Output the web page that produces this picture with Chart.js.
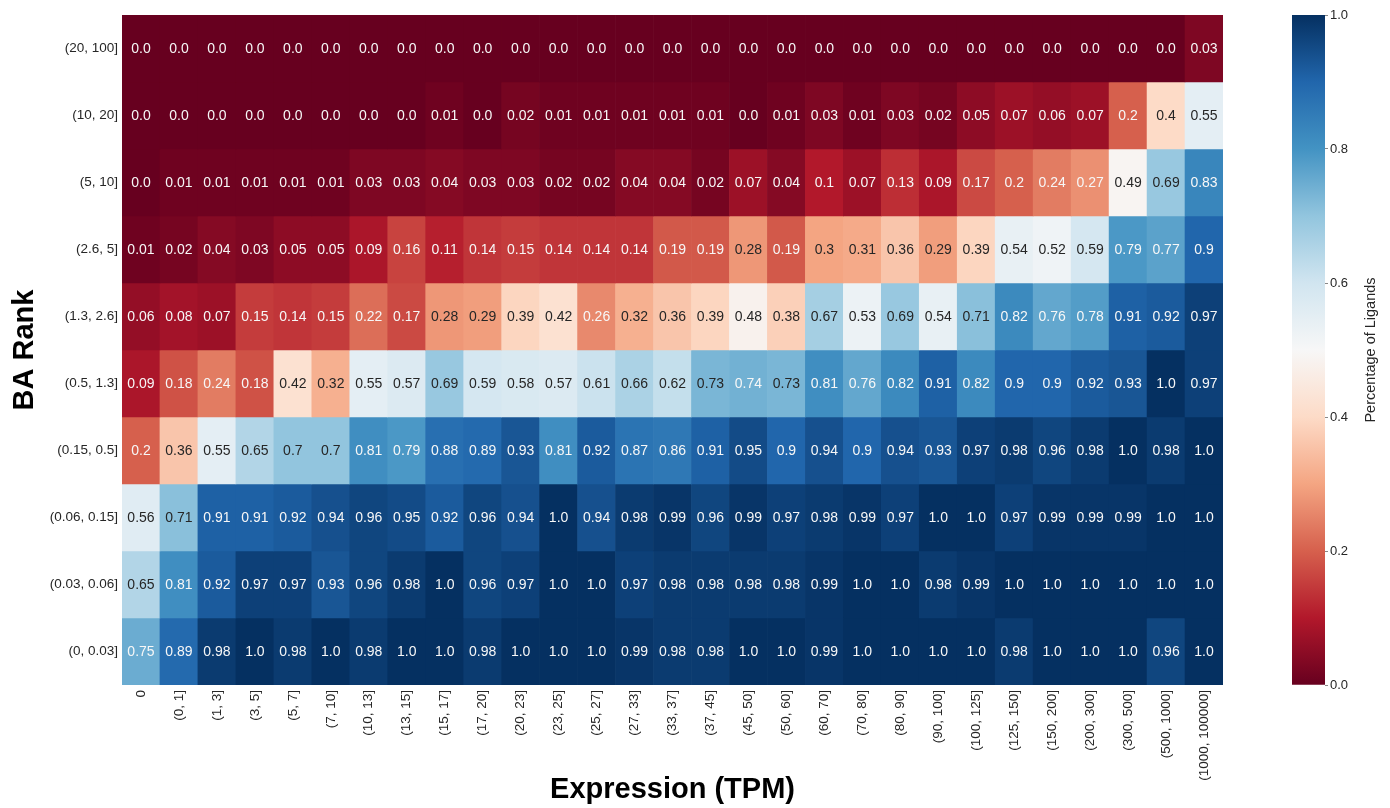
<!DOCTYPE html>
<html>
<head>
<meta charset="utf-8">
<script src="https://cdn.jsdelivr.net/npm/chart.js@4.4.1/dist/chart.umd.min.js"></script>
<style>
  html, body { margin: 0; padding: 0; background: #fff; }
  #wrap { position: relative; width: 1390px; height: 808px; }
  #heat { position: absolute; left: 0; top: 0; }
  #cbar { position: absolute; left: 1250px; top: 0; }
</style>
</head>
<body>
<div id="wrap">
  <canvas id="heat" width="1250" height="808"></canvas>
  <canvas id="cbar" width="140" height="808"></canvas>
</div>
<script>
// columns: expression bins (TPM)
const expressionBins = ["0", "(0, 1]", "(1, 3]", "(3, 5]", "(5, 7]", "(7, 10]", "(10, 13]", "(13, 15]",
  "(15, 17]", "(17, 20]", "(20, 23]", "(23, 25]", "(25, 27]", "(27, 33]", "(33, 37]", "(37, 45]",
  "(45, 50]", "(50, 60]", "(60, 70]", "(70, 80]", "(80, 90]", "(90, 100]", "(100, 125]", "(125, 150]",
  "(150, 200]", "(200, 300]", "(300, 500]", "(500, 1000]", "(1000, 100000]"];

// rows: BA rank bins, top to bottom
const rankBins = ["(20, 100]", "(10, 20]", "(5, 10]", "(2.6, 5]", "(1.3, 2.6]",
  "(0.5, 1.3]", "(0.15, 0.5]", "(0.06, 0.15]", "(0.03, 0.06]", "(0, 0.03]"];

// percentage of ligands per cell
const rank20to100 = [0.0, 0.0, 0.0, 0.0, 0.0, 0.0, 0.0, 0.0, 0.0, 0.0, 0.0, 0.0, 0.0, 0.0, 0.0, 0.0,
  0.0, 0.0, 0.0, 0.0, 0.0, 0.0, 0.0, 0.0, 0.0, 0.0, 0.0, 0.0, 0.03];
const rank10to20 = [0.0, 0.0, 0.0, 0.0, 0.0, 0.0, 0.0, 0.0, 0.01, 0.0, 0.02, 0.01, 0.01, 0.01, 0.01, 0.01,
  0.0, 0.01, 0.03, 0.01, 0.03, 0.02, 0.05, 0.07, 0.06, 0.07, 0.2, 0.4, 0.55];
const rank5to10 = [0.0, 0.01, 0.01, 0.01, 0.01, 0.01, 0.03, 0.03, 0.04, 0.03, 0.03, 0.02, 0.02, 0.04, 0.04, 0.02,
  0.07, 0.04, 0.1, 0.07, 0.13, 0.09, 0.17, 0.2, 0.24, 0.27, 0.49, 0.69, 0.83];
const rank2p6to5 = [0.01, 0.02, 0.04, 0.03, 0.05, 0.05, 0.09, 0.16, 0.11, 0.14, 0.15, 0.14, 0.14, 0.14, 0.19, 0.19,
  0.28, 0.19, 0.3, 0.31, 0.36, 0.29, 0.39, 0.54, 0.52, 0.59, 0.79, 0.77, 0.9];
const rank1p3to2p6 = [0.06, 0.08, 0.07, 0.15, 0.14, 0.15, 0.22, 0.17, 0.28, 0.29, 0.39, 0.42, 0.26, 0.32, 0.36, 0.39,
  0.48, 0.38, 0.67, 0.53, 0.69, 0.54, 0.71, 0.82, 0.76, 0.78, 0.91, 0.92, 0.97];
const rank0p5to1p3 = [0.09, 0.18, 0.24, 0.18, 0.42, 0.32, 0.55, 0.57, 0.69, 0.59, 0.58, 0.57, 0.61, 0.66, 0.62, 0.73,
  0.74, 0.73, 0.81, 0.76, 0.82, 0.91, 0.82, 0.9, 0.9, 0.92, 0.93, 1.0, 0.97];
const rank0p15to0p5 = [0.2, 0.36, 0.55, 0.65, 0.7, 0.7, 0.81, 0.79, 0.88, 0.89, 0.93, 0.81, 0.92, 0.87, 0.86, 0.91,
  0.95, 0.9, 0.94, 0.9, 0.94, 0.93, 0.97, 0.98, 0.96, 0.98, 1.0, 0.98, 1.0];
const rank0p06to0p15 = [0.56, 0.71, 0.91, 0.91, 0.92, 0.94, 0.96, 0.95, 0.92, 0.96, 0.94, 1.0, 0.94, 0.98, 0.99, 0.96,
  0.99, 0.97, 0.98, 0.99, 0.97, 1.0, 1.0, 0.97, 0.99, 0.99, 0.99, 1.0, 1.0];
const rank0p03to0p06 = [0.65, 0.81, 0.92, 0.97, 0.97, 0.93, 0.96, 0.98, 1.0, 0.96, 0.97, 1.0, 1.0, 0.97, 0.98, 0.98,
  0.98, 0.98, 0.99, 1.0, 1.0, 0.98, 0.99, 1.0, 1.0, 1.0, 1.0, 1.0, 1.0];
const rank0to0p03 = [0.75, 0.89, 0.98, 1.0, 0.98, 1.0, 0.98, 1.0, 1.0, 0.98, 1.0, 1.0, 1.0, 0.99, 0.98, 0.98,
  1.0, 1.0, 0.99, 1.0, 1.0, 1.0, 1.0, 0.98, 1.0, 1.0, 1.0, 0.96, 1.0];

const rows = [rank20to100, rank10to20, rank5to10, rank2p6to5, rank1p3to2p6,
  rank0p5to1p3, rank0p15to0p5, rank0p06to0p15, rank0p03to0p06, rank0to0p03];

const colorbarTicks = [0, 0.2, 0.4, 0.6, 0.8, 1.0];

// matplotlib RdBu
const rdbu = [
  [103, 0, 31], [178, 24, 43], [214, 96, 77], [244, 165, 130], [253, 219, 199], [247, 247, 247],
  [209, 229, 240], [146, 197, 222], [67, 147, 195], [33, 102, 172], [5, 48, 97]
];

function rgbAt(v) {
  const t = Math.max(0, Math.min(1, v)) * 10;
  const i = Math.min(9, Math.floor(t));
  const f = t - i;
  const a = rdbu[i], b = rdbu[i + 1];
  return [0, 1, 2].map(k => Math.round(a[k] + (b[k] - a[k]) * f));
}

function colorAt(v) {
  const c = rgbAt(v);
  return `rgb(${c[0]},${c[1]},${c[2]})`;
}

// seaborn style: dark text on light cells
function textColor(v) {
  const lin = rgbAt(v).map(x => {
    x = x / 255;
    return x <= 0.03928 ? x / 12.92 : Math.pow((x + 0.055) / 1.055, 2.4);
  });
  const lum = 0.2126 * lin[0] + 0.7152 * lin[1] + 0.0722 * lin[2];
  return lum > 0.408 ? '#262626' : '#f7f7f7';
}

function fmt(v) {
  const s = String(v);
  return s.includes('.') ? s : s + '.0';
}

const FONT = '"Liberation Sans", Arial, Helvetica, sans-serif';
const TICK_COLOR = '#262626';

const cellLabels = {
  id: 'cellLabels',
  afterDatasetsDraw(chart) {
    const ctx = chart.ctx;
    ctx.save();
    ctx.font = '14px ' + FONT;
    ctx.textAlign = 'center';
    ctx.textBaseline = 'middle';
    chart.data.datasets.forEach((ds, r) => {
      chart.getDatasetMeta(r).data.forEach((bar, c) => {
        const v = rows[r][c];
        ctx.fillStyle = textColor(v);
        ctx.fillText(fmt(v), bar.x, (bar.y + bar.base) / 2 + 1);
      });
    });
    ctx.restore();
  }
};

// one stacked dataset per rank bin, each cell one unit tall
const datasets = rankBins.map((label, r) => ({
  label: label,
  data: expressionBins.map(() => 1),
  backgroundColor: rows[r].map(colorAt),
  borderWidth: 0,
  barPercentage: 1,
  categoryPercentage: 1
}));

new Chart(document.getElementById('heat'), {
  type: 'bar',
  data: { labels: expressionBins, datasets: datasets },
  options: {
    responsive: false,
    animation: false,
    layout: { padding: { top: 15, right: 27, left: 0, bottom: 0 } },
    plugins: {
      legend: { display: false },
      tooltip: { enabled: false }
    },
    scales: {
      x: {
        stacked: true,
        grid: { display: false, drawTicks: false },
        border: { display: false },
        ticks: {
          autoSkip: false,
          minRotation: 90,
          maxRotation: 90,
          padding: 5,
          color: TICK_COLOR,
          font: { family: FONT, size: 13.5 }
        },
        title: {
          display: true,
          text: 'Expression (TPM)',
          color: '#000',
          font: { family: FONT, size: 29, weight: 'bold' },
          padding: { top: 0, bottom: 1 }
        },
        afterFit: (scale) => { scale.height = 123; }
      },
      y: {
        type: 'linear',
        stacked: true,
        reverse: true,
        min: 0,
        max: rankBins.length,
        grid: { display: false, drawTicks: false },
        border: { display: false },
        afterBuildTicks: (scale) => {
          scale.ticks = rankBins.map((_, i) => ({ value: i + 0.5 }));
        },
        ticks: {
          autoSkip: false,
          padding: 4,
          color: TICK_COLOR,
          font: { family: FONT, size: 13.5 },
          callback: (value, index) => rankBins[index]
        },
        title: {
          display: true,
          text: 'BA Rank',
          color: '#000',
          font: { family: FONT, size: 29, weight: 'bold' },
          padding: { top: 8, bottom: 0 }
        },
        afterFit: (scale) => { scale.width = 122; }
      }
    }
  },
  plugins: [cellLabels]
});

// colorbar
const cbarTitle = {
  id: 'cbarTitle',
  afterDraw(chart) {
    const ctx = chart.ctx;
    const area = chart.chartArea;
    ctx.save();
    ctx.translate(121, (area.top + area.bottom) / 2);
    ctx.rotate(-Math.PI / 2);
    ctx.font = '14.5px ' + FONT;
    ctx.fillStyle = TICK_COLOR;
    ctx.textAlign = 'center';
    ctx.textBaseline = 'middle';
    ctx.fillText('Percentage of Ligands', 0, 0);
    ctx.restore();
  }
};

new Chart(document.getElementById('cbar'), {
  type: 'bar',
  data: {
    labels: ['scale'],
    datasets: [{
      data: [[colorbarTicks[0], colorbarTicks[colorbarTicks.length - 1]]],
      backgroundColor: (ctx) => {
        const area = ctx.chart.chartArea;
        if (!area) return null;
        const g = ctx.chart.ctx.createLinearGradient(0, area.bottom, 0, area.top);
        rdbu.forEach((c, i) => g.addColorStop(i / 10, `rgb(${c[0]},${c[1]},${c[2]})`));
        return g;
      },
      borderWidth: 0,
      barPercentage: 1,
      categoryPercentage: 1
    }]
  },
  options: {
    responsive: false,
    animation: false,
    layout: { padding: { top: 15, left: 42, right: 0, bottom: 123 } },
    plugins: {
      legend: { display: false },
      tooltip: { enabled: false }
    },
    scales: {
      x: { display: false },
      y: {
        position: 'right',
        min: 0,
        max: 1,
        grid: { drawOnChartArea: false, drawTicks: true, tickLength: 3, color: '#888' },
        border: { display: false },
        afterBuildTicks: (scale) => {
          scale.ticks = colorbarTicks.map(v => ({ value: v }));
        },
        ticks: {
          padding: 2,
          color: TICK_COLOR,
          font: { family: FONT, size: 13 },
          callback: (value) => Number(value).toFixed(1)
        },
        afterFit: (scale) => { scale.width = 65; }
      }
    }
  },
  plugins: [cbarTitle]
});
</script>
</body>
</html>
